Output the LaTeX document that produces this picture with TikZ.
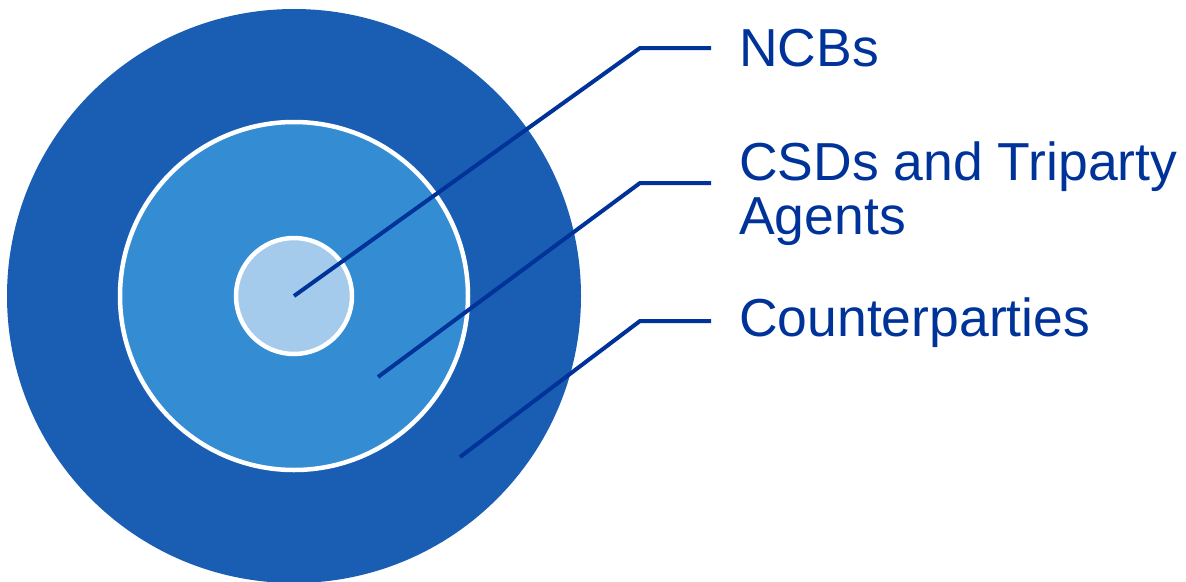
\documentclass[tikz,border=0pt]{standalone}
\usepackage{fontspec}
\setmainfont{Liberation Sans}
\definecolor{outerblue}{HTML}{1A5EB4}
\definecolor{midblue}{HTML}{348DD3}
\definecolor{innerblue}{HTML}{A4CBEC}
\definecolor{darkblue}{HTML}{003399}
\tikzset{
  ring/.style={draw=white, line width=4.5pt},
  leader/.style={draw=darkblue, line width=4pt},
  lbl/.style={anchor=base west, inner sep=0pt, text=darkblue, align=left,
    font=\fontsize{53.5}{54}\selectfont}
}
\begin{document}
\begin{tikzpicture}[x=1pt,y=-1pt]
\useasboundingbox (0,0) rectangle (1186,581);
\fill[outerblue] (294,296) circle (287);
\path[ring, fill=midblue] (294,296) circle (174);
\path[ring, fill=innerblue] (294,296) circle (58);
\coordinate (a1) at (294,296);
\coordinate (b1) at (378,377);
\coordinate (c1) at (460,457);
\coordinate (a2) at (640,48);
\coordinate (b2) at (640,183);
\coordinate (c2) at (640,321);
\coordinate (a3) at (711,48);
\coordinate (b3) at (711,183);
\coordinate (c3) at (711,321);
\node[lbl] (ncb) at (739,66) {NCBs};
\node[lbl] (csd) at (739,234) {CSDs and Triparty\\Agents};
\node[lbl] (cp) at (739,336) {Counterparties};
\draw[leader] (a1) -- (a2) -- (a3);
\draw[leader] (b1) -- (b2) -- (b3);
\draw[leader] (c1) -- (c2) -- (c3);
\end{tikzpicture}
\end{document}
